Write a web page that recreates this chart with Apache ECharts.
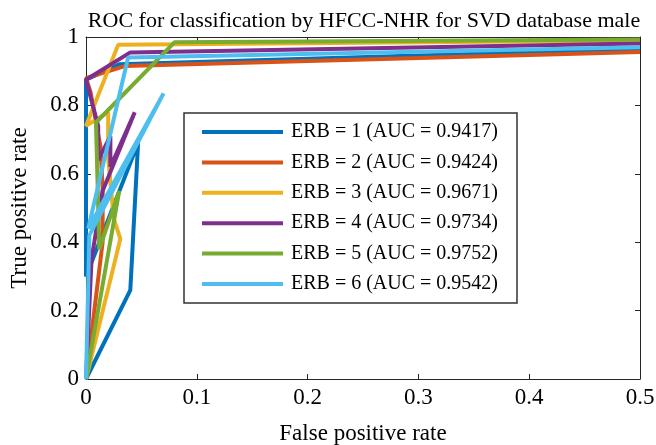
<!DOCTYPE html>
<html>
<head>
<meta charset="utf-8">
<script src="https://cdn.jsdelivr.net/npm/echarts@6/dist/echarts.min.js"></script>
<style>
  html, body { margin: 0; padding: 0; background: #fff; }
  #roc { width: 656px; height: 445px; }
</style>
</head>
<body>
<div id="roc"></div>
<script>
// ROC points per ERB setting as [fpr, tpr]
var erb1 = [[0, 0], [0.04, 0.26], [0.047, 0.69], [0, 0.30], [0, 0.875], [0.03, 0.92], [0.5, 0.965]];
var erb2 = [[0, 0], [0.015, 0.40], [0.015, 0.56], [0.013, 0.68], [0.004, 0.84], [0, 0.88], [0.035, 0.915], [0.5, 0.956]];
var erb3 = [[0, 0], [0.025, 0.33], [0.031, 0.41], [0.025, 0.47], [0.02, 0.65], [0.02, 0.78], [0, 0.74], [0.029, 0.977], [0.5, 0.99]];
var erb4 = [[0, 0], [0.005, 0.35], [0.015, 0.55], [0.044, 0.78], [0.022, 0.62], [0.022, 0.71], [0.011, 0.64], [0.011, 0.74], [0, 0.875], [0.04, 0.955], [0.5, 0.981]];
var erb5 = [[0, 0], [0.03, 0.55], [0.012, 0.38], [0.009, 0.75], [0.08, 0.985], [0.5, 0.993]];
var erb6 = [[0, 0], [0.003, 0.42], [0.07, 0.835], [0.002, 0.44], [0.038, 0.94], [0.5, 0.97]];

var names = [
  'ERB = 1 (AUC = 0.9417)',
  'ERB = 2 (AUC = 0.9424)',
  'ERB = 3 (AUC = 0.9671)',
  'ERB = 4 (AUC = 0.9734)',
  'ERB = 5 (AUC = 0.9752)',
  'ERB = 6 (AUC = 0.9542)'
];
var colors = ['#0072BD', '#D95319', '#EDB120', '#7E2F8E', '#77AC30', '#4DBEEE'];
var curves = [erb1, erb2, erb3, erb4, erb5, erb6];

var font = '"Liberation Serif", "Times New Roman", serif';
var axisCol = '#262626';

var chart = echarts.init(document.getElementById('roc'));

var series = curves.map(function (pts, i) {
  return {
    name: names[i],
    type: 'line',
    data: pts,
    showSymbol: false,
    symbol: 'none',
    lineStyle: { width: 4, color: colors[i] },
    itemStyle: { color: colors[i] }
  };
});

function boxAxis(pos, min, max, interval, showLabel) {
  return {
    type: 'value',
    position: pos,
    min: min, max: max, interval: interval,
    axisLine: { show: true, onZero: false, lineStyle: { color: axisCol, width: 1 } },
    axisTick: { show: true, inside: true, length: 5, lineStyle: { color: axisCol } },
    axisLabel: {
      show: showLabel, color: '#000', fontFamily: font, fontSize: 23, margin: 7
    },
    splitLine: { show: false }
  };
}

var xBottom = boxAxis('bottom', 0, 0.5, 0.1, true);
xBottom.name = 'False positive rate';
xBottom.nameLocation = 'middle';
xBottom.nameGap = 43;
xBottom.nameTextStyle = { color: '#000', fontFamily: font, fontSize: 23 };
var yLeft = boxAxis('left', 0, 1, 0.2, true);
yLeft.name = 'True positive rate';
yLeft.nameLocation = 'middle';
yLeft.nameGap = 55;
yLeft.nameTextStyle = { color: '#000', fontFamily: font, fontSize: 23 };

var option = {
  animation: false,
  backgroundColor: '#fff',
  title: {
    text: 'ROC for classification by HFCC-NHR for SVD database male',
    left: 359, top: 5, textAlign: 'center',
    textStyle: { color: '#000', fontFamily: font, fontSize: 22, fontWeight: 'normal' }
  },
  grid: { left: 86, right: 16, top: 37, bottom: 66, outerBoundsMode: 'none', containLabel: false },
  legend: {
    orient: 'vertical',
    left: 184, top: 113,
    data: names,
    icon: 'rect',
    itemWidth: 81, itemHeight: 4,
    itemGap: 10.4,
    padding: [9, 19, 9, 18],
    borderColor: '#333', borderWidth: 1.5,
    backgroundColor: '#fff',
    textStyle: { color: '#000', fontFamily: font, fontSize: 20, padding: [0, 0, 0, 3] }
  },
  xAxis: [xBottom, boxAxis('top', 0, 0.5, 0.1, false)],
  yAxis: [yLeft, boxAxis('right', 0, 1, 0.2, false)],
  series: series
};

chart.setOption(option);
</script>
</body>
</html>
